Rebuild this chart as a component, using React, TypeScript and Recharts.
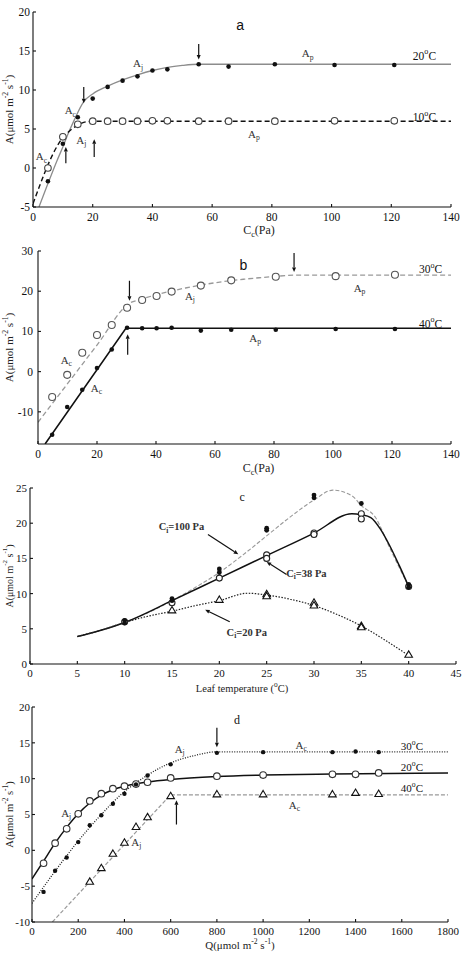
import { ComposedChart, Line, Scatter, XAxis, YAxis, ReferenceDot, ReferenceLine } from "recharts";

const SERIF = '"Liberation Serif", "Times New Roman", serif';
const SANS = '"Liberation Sans", Arial, sans-serif';
const INK = "#111";
const GRAY = "#8c8c8c";
const NOTE = "#333";

type Part = [string, ("sub" | "sup")?];
type Pt = { x: number; y: number };

// (a) A vs Cc at 20 and 10 °C
const ccA = [5, 10, 15, 20, 25, 30, 35, 40, 45, 55.5, 65.5, 81, 101, 121];
const a20 = [-1.7, 3.1, 6.5, 8.9, 10.4, 11.2, 11.75, 12.5, 12.65, 13.3, 13.0, 13.3, 13.2, 13.2];
const a10 = [0, 4.0, 5.6, 6.0, 6.0, 6.0, 6.0, 6.05, 6.05, 6.0, 6.0, 6.0, 6.05, 6.05];
const a20FitX = [2, 5, 8, 10, 12, 14, 17, 20, 25, 30, 35, 40, 45, 50, 55.5, 140];
const a20FitY = [-5, -2.0, 0.9, 2.7, 4.6, 6.3, 8.5, 9.5, 10.5, 11.3, 11.95, 12.5, 12.9, 13.15, 13.3, 13.3];
const a10FitX = [0, 2.5, 5, 7.5, 10, 11, 13, 15, 17, 20, 140];
const a10FitY = [-4.6, -2.0, 0.4, 2.4, 3.9, 4.3, 5.0, 5.5, 5.85, 6.0, 6.0];

// (b) A vs Cc at 30 and 40 °C
const ccB = [4.8, 9.9, 15, 20, 25, 30.2, 35.3, 40.2, 45.3, 55.2, 65.5, 80.6, 100.9, 121];
const b30 = [-6.3, -0.8, 4.7, 9.1, 11.6, 15.9, 17.8, 18.8, 19.9, 21.4, 22.7, 23.6, 23.75, 24.1];
const b40 = [-15.7, -8.8, -4.5, 0.9, 5.5, 10.9, 10.8, 10.8, 10.9, 10.2, 10.4, 10.4, 10.6, 10.6];
const b30FitX = [0, 10, 20, 31, 35, 40, 45, 50, 55, 60, 65, 70, 75, 80, 87, 140];
const b30FitY = [-12.6, -3.0, 6.6, 17.0, 18.0, 19.1, 20.0, 20.8, 21.5, 22.1, 22.6, 23.0, 23.35, 23.65, 24.0, 24.0];
const b40FitX = [2.4, 29.8, 140];
const b40FitY = [-18, 10.8, 10.8];

// (c) A vs leaf temperature at three Ci
const tHi = [10, 10, 15, 15, 20, 20, 25, 25, 30, 30, 35, 40, 40];
const cHi = [6.2, 5.8, 9.3, 9.0, 13.5, 13.0, 19.3, 19.0, 24.0, 23.6, 22.8, 11.3, 10.9];
const tMid = [10, 15, 20, 25, 25, 30, 30, 35, 35, 40];
const cMid = [6.0, 8.7, 12.2, 15.5, 15.0, 18.6, 18.4, 21.35, 20.6, 11.0];
const tLow = [15, 20, 25, 25, 30, 30, 35, 35, 40];
const cLow = [7.6, 9.1, 9.9, 9.6, 8.7, 8.3, 5.4, 5.2, 1.3];
const c100FitX = [5, 7.5, 10, 12.5, 15, 17.5, 20, 22.5, 25, 27.5, 30, 32, 34, 35, 36.5, 38, 40];
const c100FitY = [3.9, 4.8, 5.9, 7.3, 9.0, 10.9, 13.0, 15.5, 18.2, 20.9, 23.3, 24.7, 23.9, 22.5, 20.8, 16.5, 11.0];
const c38FitX = [5, 7.5, 10, 15, 20, 25, 30, 34, 35, 36, 37, 38, 39, 40];
const c38FitY = [3.9, 4.8, 5.9, 9.0, 12.2, 15.4, 18.6, 21.35, 21.2, 20.8, 19.2, 16.8, 14.0, 11.0];
const c20FitX = [5, 7.5, 10, 12.5, 15, 17.5, 20, 23, 25, 27.5, 30, 32.5, 35, 37.5, 40];
const c20FitY = [3.9, 4.8, 5.9, 6.8, 7.5, 8.3, 9.0, 10.05, 9.8, 9.2, 8.3, 7.0, 5.4, 3.4, 1.2];

// (d) A vs Q at 30, 20 and 40 °C
const qD = [50, 100, 150, 200, 250, 300, 350, 400, 450, 500, 600, 800, 1000, 1300, 1400, 1500];
const d30 = [-5.8, -2.85, -1.0, 1.15, 3.5, 4.9, 6.5, 7.9, 9.2, 10.45, 12.0, 13.6, 13.7, 13.7, 13.8, 13.7];
const d20 = [-1.8, 1.0, 3.0, 5.1, 6.9, 7.9, 8.6, 8.95, 9.25, 9.5, 10.1, 10.35, 10.5, 10.6, 10.6, 10.8];
const qD40 = [250, 300, 350, 400, 450, 500, 600, 800, 1000, 1300, 1400, 1500];
const d40 = [-4.4, -2.5, -0.5, 1.05, 3.25, 4.6, 7.55, 7.8, 7.8, 7.8, 8.0, 7.85];
const d20FitX = [0, 50, 100, 150, 200, 250, 300, 350, 400, 450, 500, 600, 800, 1000, 1300, 1800];
const d20FitY = [-4, -1.5, 1.0, 3.2, 5.1, 6.6, 7.7, 8.45, 8.95, 9.3, 9.55, 9.9, 10.3, 10.5, 10.65, 10.8];
const d30FitX = [0, 100, 200, 300, 400, 450, 500, 600, 700, 800, 1800];
const d30FitY = [-7.4, -2.9, 1.3, 5.0, 8.2, 9.4, 10.5, 12.2, 13.2, 13.75, 13.75];
const d40FitX = [88, 600, 1800];
const d40FitY = [-10, 7.75, 7.75];

const ccTicks = [0, 20, 40, 60, 80, 100, 120, 140];
const aTicks = [-5, 0, 5, 10, 15, 20];
const bTicks = [-10, 0, 10, 20, 30];
const tempTicks = [0, 5, 10, 15, 20, 25, 30, 35, 40, 45];
const cTicks = [0, 5, 10, 15, 20, 25];
const qTicks = [0, 200, 400, 600, 800, 1000, 1200, 1400, 1600, 1800];
const dTicks = [-10, -5, 0, 5, 10, 15, 20];

const pts = (xs: number[], ys: number[]): Pt[] => xs.map((x, i) => ({ x, y: ys[i] }));

const rateTitle: Part[] = [["A(μmol m"], ["-2", "sup"], [" s"], ["-1", "sup"], [")"]];
const ccTitle: Part[] = [["C"], ["c", "sub"], ["(Pa)"]];
const deg = (t: string): Part[] => [[t], ["o", "sup"], ["C"]];
const A = (s: string): Part[] => [["A"], [s, "sub"]];

function Rich({ x, y, parts, size = 10, anchor = "middle", family = SERIF, weight, fill = INK, rotate = false }: {
  x: number; y: number; parts: Part[]; size?: number; anchor?: "start" | "middle" | "end";
  family?: string; weight?: number; fill?: string; rotate?: boolean;
}) {
  let shift = 0;
  const spans = parts.map(([t, k], i) => {
    const target = k === "sub" ? size * 0.3 : k === "sup" ? -size * 0.38 : 0;
    const dy = target - shift;
    shift = target;
    return (
      <tspan key={i} dy={dy} fontSize={k ? size * 0.7 : size}>
        {t}
      </tspan>
    );
  });
  return (
    <text x={x} y={y} textAnchor={anchor} dominantBaseline="central" fontFamily={family} fontWeight={weight}
      fill={fill} fontSize={size} transform={rotate ? `rotate(-90 ${x} ${y})` : undefined}>
      {spans}
    </text>
  );
}

const dot = (r: number) => (p: any) => <circle cx={p.cx} cy={p.cy} r={r} fill={INK} />;
const ring = (r: number, stroke: string) => (p: any) => (
  <circle cx={p.cx} cy={p.cy} r={r} fill="#fff" stroke={stroke} strokeWidth={1.1} />
);
const tri = (s: number) => (p: any) => (
  <path d={`M${p.cx},${p.cy - s} L${p.cx + s * 0.95},${p.cy + s * 0.6} L${p.cx - s * 0.95},${p.cy + s * 0.6}Z`}
    fill="#fff" stroke={INK} strokeWidth={1.1} />
);

const arrowShape = (head: number, half: number) => (p: any) => {
  const { x1, y1, x2, y2 } = p;
  const ang = Math.atan2(y2 - y1, x2 - x1);
  const c = Math.cos(ang);
  const s = Math.sin(ang);
  const bx = x2 - head * c;
  const by = y2 - head * s;
  return (
    <g>
      <line x1={x1} y1={y1} x2={bx} y2={by} stroke={INK} strokeWidth={1.2} />
      <path d={`M${x2},${y2} L${bx - half * s},${by + half * c} L${bx + half * s},${by - half * c}Z`} fill={INK} />
    </g>
  );
};

type Note = { x: number; y: number; parts: Part[]; size?: number; anchor?: "start" | "middle" | "end"; family?: string; weight?: number; fill?: string };
type Arrow = { x1: number; y1: number; x2: number; y2: number };
type Curve = { data: Pt[]; stroke: string; width: number; dash?: string; curve: "monotone" | "linear" };
type Marks = { data: Pt[]; shape: (p: any) => any };

type PanelProps = {
  top: number; height: number; mTop: number; mRight: number; yWidth: number; xHeight: number;
  xDomain: [number, number]; yDomain: [number, number]; xTicks: number[]; yTicks: number[];
  tickFont: number; xGap: number; yGap: number;
  xTitle: Part[]; xTitleShift: number; xTitleDy: number; xTitleSize: number;
  yTitle: Part[]; yTitleSize: number; yTitleX: number;
  curves: Curve[]; marks: Marks[]; notes: Note[]; arrows: Arrow[];
};

function Panel(pp: PanelProps) {
  const tick = { fontFamily: SERIF, fontSize: pp.tickFont, fill: INK };
  const axis = { stroke: INK, strokeWidth: 1.1 };
  return (
    <div style={{ position: "absolute", left: 0, top: pp.top }}>
      <ComposedChart width={469} height={pp.height} margin={{ top: pp.mTop, right: pp.mRight, bottom: 0, left: 0 }}>
        <XAxis dataKey="x" type="number" domain={pp.xDomain} ticks={pp.xTicks} allowDataOverflow interval={0}
          height={pp.xHeight} tickSize={-3} tickMargin={pp.xGap} tick={tick} axisLine={axis} tickLine={axis}
          label={{
            content: (lp: any) => (
              <Rich x={lp.viewBox.x + lp.viewBox.width / 2 + pp.xTitleShift} y={lp.viewBox.y + pp.xTitleDy}
                parts={pp.xTitle} size={pp.xTitleSize} fill="#222" />
            ),
          }} />
        <XAxis xAxisId="top" orientation="top" type="number" domain={pp.xDomain} ticks={pp.xTicks} allowDataOverflow
          interval={0} height={0} tickSize={-3} tick={false} axisLine={axis} tickLine={axis} />
        <YAxis type="number" domain={pp.yDomain} ticks={pp.yTicks} allowDataOverflow interval={0} width={pp.yWidth}
          tickSize={-3} tickMargin={pp.yGap} tick={tick} axisLine={axis} tickLine={axis}
          label={{
            content: (lp: any) => (
              <Rich x={pp.yTitleX} y={lp.viewBox.y + lp.viewBox.height / 2} parts={pp.yTitle} size={pp.yTitleSize}
                fill="#222" rotate />
            ),
          }} />
        <YAxis yAxisId="right" orientation="right" type="number" domain={pp.yDomain} ticks={pp.yTicks} allowDataOverflow
          interval={0} width={0} tickSize={-3} tick={false} axisLine={axis} tickLine={axis} />
        {pp.curves.map((c, i) => (
          <Line key={`c${i}`} data={c.data} dataKey="y" type={c.curve} stroke={c.stroke} strokeWidth={c.width}
            strokeDasharray={c.dash} dot={false} activeDot={false} isAnimationActive={false} />
        ))}
        {pp.marks.map((m, i) => (
          <Scatter key={`m${i}`} data={m.data} dataKey="y" shape={m.shape} isAnimationActive={false} />
        ))}
        {pp.arrows.map((a, i) => (
          <ReferenceLine key={`a${i}`} segment={[{ x: a.x1, y: a.y1 }, { x: a.x2, y: a.y2 }]} shape={arrowShape(4.5, 2)} />
        ))}
        {pp.notes.map((n, i) => (
          <ReferenceDot key={`n${i}`} x={n.x} y={n.y} r={0}
            shape={(p: any) => (
              <Rich x={p.cx} y={p.cy} parts={n.parts} size={n.size ?? 11} anchor={n.anchor} family={n.family}
                weight={n.weight} fill={n.fill ?? NOTE} />
            )} />
        ))}
      </ComposedChart>
    </div>
  );
}

export default function App() {
  return (
    <div style={{ position: "absolute", left: 0, top: 0, width: 469, height: 954, background: "#fff" }}>
      <Panel top={0} height={240} mTop={12} mRight={18} yWidth={33} xHeight={33}
        xDomain={[0, 140]} yDomain={[-5, 20]} xTicks={ccTicks} yTicks={aTicks} tickFont={11.5} xGap={9} yGap={6}
        xTitle={ccTitle} xTitleShift={17} xTitleDy={23} xTitleSize={12} yTitle={rateTitle} yTitleSize={11} yTitleX={9}
        curves={[
          { data: pts(a20FitX, a20FitY), stroke: GRAY, width: 1.3, curve: "monotone" },
          { data: pts(a10FitX, a10FitY), stroke: INK, width: 1.4, dash: "5 3", curve: "monotone" },
        ]}
        marks={[
          { data: pts(ccA, a10), shape: ring(3.3, "#444") },
          { data: pts(ccA, a20), shape: dot(2.3) },
        ]}
        arrows={[
          { x1: 17, y1: 10.4, x2: 17, y2: 8.3 },
          { x1: 55.5, y1: 15.9, x2: 55.5, y2: 13.9 },
          { x1: 11, y1: 0.6, x2: 11, y2: 2.7 },
          { x1: 20.5, y1: 1.4, x2: 20.5, y2: 3.7 },
        ]}
        notes={[
          { x: 69.4, y: 18.3, parts: [["a"]], size: 14, family: SANS, fill: INK },
          { x: 35.2, y: 13.4, parts: A("j") },
          { x: 12.5, y: 7.4, parts: A("c") },
          { x: 2.8, y: 1.5, parts: A("c") },
          { x: 16.2, y: 3.6, parts: A("j") },
          { x: 92, y: 14.7, parts: A("p") },
          { x: 74, y: 4.4, parts: A("p") },
          { x: 135, y: 14.4, parts: deg("20"), size: 11.5, anchor: "end", fill: INK },
          { x: 135, y: 6.5, parts: deg("10"), size: 11.5, anchor: "end", fill: INK },
        ]} />

      <Panel top={240} height={235} mTop={11} mRight={18} yWidth={38} xHeight={31}
        xDomain={[0, 140]} yDomain={[-18, 30]} xTicks={ccTicks} yTicks={bTicks} tickFont={11.5} xGap={9} yGap={8}
        xTitle={ccTitle} xTitleShift={14} xTitleDy={24} xTitleSize={12} yTitle={rateTitle} yTitleSize={11} yTitleX={9}
        curves={[
          { data: pts(b30FitX, b30FitY), stroke: "#999", width: 1.3, dash: "5 3", curve: "monotone" },
          { data: pts(b40FitX, b40FitY), stroke: INK, width: 1.6, curve: "linear" },
        ]}
        marks={[
          { data: pts(ccB, b30), shape: ring(3.5, "#555") },
          { data: pts(ccB, b40), shape: dot(2.3) },
        ]}
        arrows={[
          { x1: 31, y1: 22.6, x2: 31, y2: 17.6 },
          { x1: 86.8, y1: 29.5, x2: 86.8, y2: 24.8 },
          { x1: 30.4, y1: 4.2, x2: 30.4, y2: 9.3 },
        ]}
        notes={[
          { x: 69.6, y: 26.6, parts: [["b"]], size: 14, family: SANS, fill: INK },
          { x: 51.5, y: 18.8, parts: A("j") },
          { x: 109, y: 20.9, parts: A("p") },
          { x: 137, y: 25.5, parts: deg("30"), size: 11.5, anchor: "end", fill: INK },
          { x: 137, y: 11.9, parts: deg("40"), size: 11.5, anchor: "end", fill: INK },
          { x: 73.6, y: 8.4, parts: A("p") },
          { x: 9.6, y: 3.0, parts: A("c") },
          { x: 19.8, y: -4.1, parts: A("c") },
        ]} />

      <Panel top={475} height={227} mTop={13} mRight={13} yWidth={30} xHeight={38}
        xDomain={[0, 45]} yDomain={[0, 25]} xTicks={tempTicks} yTicks={cTicks} tickFont={11} xGap={8} yGap={6}
        xTitle={[["Leaf temperature ("], ["o", "sup"], ["C)"]]} xTitleShift={-1} xTitleDy={24} xTitleSize={10.5}
        yTitle={rateTitle} yTitleSize={10} yTitleX={9}
        curves={[
          { data: pts(c100FitX, c100FitY), stroke: "#999", width: 1.1, dash: "4 2", curve: "monotone" },
          { data: pts(c38FitX, c38FitY), stroke: INK, width: 1.5, curve: "monotone" },
          { data: pts(c20FitX, c20FitY), stroke: "#222", width: 1.2, dash: "1.5 1.5", curve: "monotone" },
        ]}
        marks={[
          { data: pts(tMid, cMid), shape: ring(3, "#222") },
          { data: pts(tLow, cLow), shape: tri(4) },
          { data: pts(tHi, cHi), shape: dot(2.4) },
        ]}
        arrows={[
          { x1: 18.8, y1: 18.4, x2: 22, y2: 15.6 },
          { x1: 27.1, y1: 12.7, x2: 25.0, y2: 14.5 },
          { x1: 21.1, y1: 6.0, x2: 18.5, y2: 7.7 },
        ]}
        notes={[
          { x: 22.4, y: 23.7, parts: [["c"]], size: 12, fill: INK },
          { x: 16, y: 19.55, parts: [["C"], ["i", "sub"], ["=100 Pa"]], size: 10.5, weight: 700 },
          { x: 29.2, y: 12.9, parts: [["C"], ["i", "sub"], ["=38 Pa"]], size: 10.5, weight: 700 },
          { x: 22.9, y: 4.6, parts: [["C"], ["i", "sub"], ["=20 Pa"]], size: 10.5, weight: 700 },
        ]} />

      <Panel top={702} height={252} mTop={5} mRight={21} yWidth={32} xHeight={32}
        xDomain={[0, 1800]} yDomain={[-10, 20]} xTicks={qTicks} yTicks={dTicks} tickFont={11} xGap={8} yGap={5}
        xTitle={[["Q(μmol m"], ["-2", "sup"], [" s"], ["-1", "sup"], [")"]]} xTitleShift={0} xTitleDy={23}
        xTitleSize={11} yTitle={rateTitle} yTitleSize={10.5} yTitleX={9}
        curves={[
          { data: pts(d40FitX, d40FitY), stroke: "#999", width: 1.2, dash: "4 2", curve: "linear" },
          { data: pts(d30FitX, d30FitY), stroke: "#222", width: 1.3, dash: "1 1.5", curve: "monotone" },
          { data: pts(d20FitX, d20FitY), stroke: INK, width: 1.5, curve: "monotone" },
        ]}
        marks={[
          { data: pts(qD40, d40), shape: tri(4) },
          { data: pts(qD, d20), shape: ring(3.3, "#333") },
          { data: pts(qD, d30), shape: dot(2.2) },
        ]}
        arrows={[
          { x1: 800, y1: 17.1, x2: 800, y2: 14.4 },
          { x1: 625, y1: 3.6, x2: 625, y2: 7.0 },
        ]}
        notes={[
          { x: 887, y: 18.2, parts: [["d"]], size: 12, fill: INK },
          { x: 639, y: 14.2, parts: A("j") },
          { x: 1165, y: 14.7, parts: A("c") },
          { x: 1692, y: 14.6, parts: deg("30"), size: 11, anchor: "end", fill: INK },
          { x: 1692, y: 11.6, parts: deg("20"), size: 11, anchor: "end", fill: INK },
          { x: 1692, y: 8.65, parts: deg("40"), size: 11, anchor: "end", fill: INK },
          { x: 1136, y: 6.3, parts: A("c") },
          { x: 148, y: 5.2, parts: A("j") },
          { x: 451, y: 1.2, parts: A("j") },
        ]} />
    </div>
  );
}
